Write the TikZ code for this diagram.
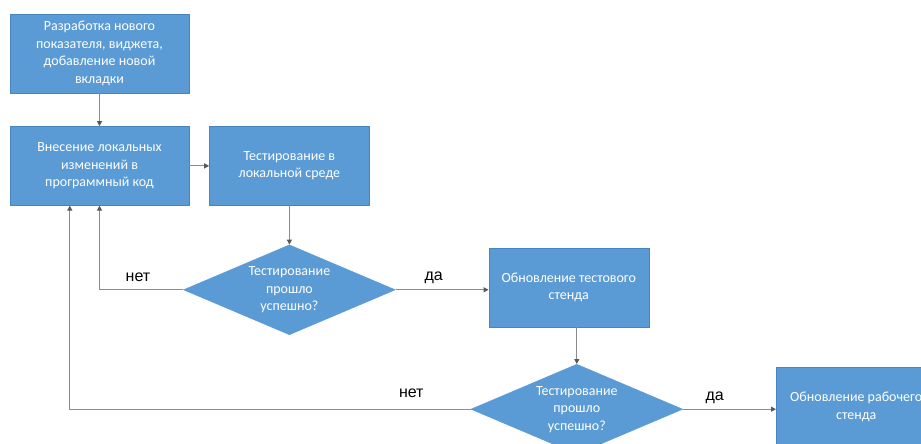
\documentclass[tikz,border=0pt]{standalone}
\usepackage{fontspec}
\setmainfont{Carlito}
\newfontfamily\labelfont{Liberation Sans}
\usetikzlibrary{arrows.meta,positioning,shapes.geometric}
\usepackage{xcolor}
\definecolor{boxblue}{HTML}{5B9BD5}
\definecolor{boxline}{HTML}{4A84BC}
\definecolor{linegray}{HTML}{8C8C8C}
\definecolor{tipgray}{HTML}{595959}

\begin{document}
\begin{tikzpicture}[
            x=1pt, y=-1pt,
            box/.style={rectangle, draw=boxline, fill=boxblue, text=white, align=center, minimum width=#1, minimum height=79pt, inner sep=0pt, font=\fontsize{14}{17.5}\selectfont},
            box/.default=179pt,
            decision/.style={diamond, draw=boxblue, fill=boxblue, minimum width=212pt, minimum height=90pt, inner sep=0pt},
            dtext/.style={text=white, align=center, inner sep=0pt, font=\fontsize{14}{17.5}\selectfont},
            answer/.style={font=\labelfont\fontsize{16}{19}\selectfont, text=black, inner sep=0pt, anchor=base},
            arrow/.style={-{Triangle[width=5pt,length=5pt,color=tipgray]}, draw=linegray, line width=1.1pt}
        ]
            \useasboundingbox (0,0) rectangle (921,444);
            \clip (0,0) rectangle (921,444);

            % --- Разработка и локальные изменения ---
            \node[box] (dev) at (99.5,53.5) {Разработка нового\\показателя, виджета,\\добавление новой\\вкладки};
            \node[box, below=33pt of dev] (local) {Внесение локальных\\изменений в\\программный код};
            \node[box=160pt, right=20pt of local] (localtest) {Тестирование в\\локальной среде};

            % --- Первая проверка ---
            \node[decision, below=39pt of localtest, label={[dtext]center:Тестирование\\прошло\\успешно?}] (check1) {};
            \node[box=160pt, right=93pt of check1, yshift=2.5pt] (teststand) {Обновление тестового\\стенда};

            % --- Вторая проверка ---
            \node[decision, below=37pt of teststand, xshift=8pt, label={[dtext]center:Тестирование\\прошло\\успешно?}] (check2) {};
            \node[box=160pt, right=93pt of check2, yshift=2.5pt] (prodstand) {Обновление рабочего\\стенда};

            % --- Связи ---
            \draw[arrow] (dev.south) -- (local.north);
            \draw[arrow] (local.east) -- (localtest.west);
            \draw[arrow] (localtest.south) -- (check1.north);
            \draw[arrow] (check1.west) -| node[answer, pos=0.27, yshift=8pt] (no1) {нет} (local.south);
            \draw[arrow] (check1.east) -- node[answer, pos=0.41, yshift=9pt] (yes1) {да} (check1.east -| teststand.west);
            \draw[arrow] (check2.north |- teststand.south) -- (check2.north);
            \draw[arrow] (check2.west) -| node[answer, pos=0.074, yshift=12pt] (no2) {нет} ([xshift=60pt]local.south west);
            \draw[arrow] (check2.east) -- node[answer, pos=0.34, yshift=9pt] (yes2) {да} (check2.east -| prodstand.west);

        \end{tikzpicture}
\end{document}
